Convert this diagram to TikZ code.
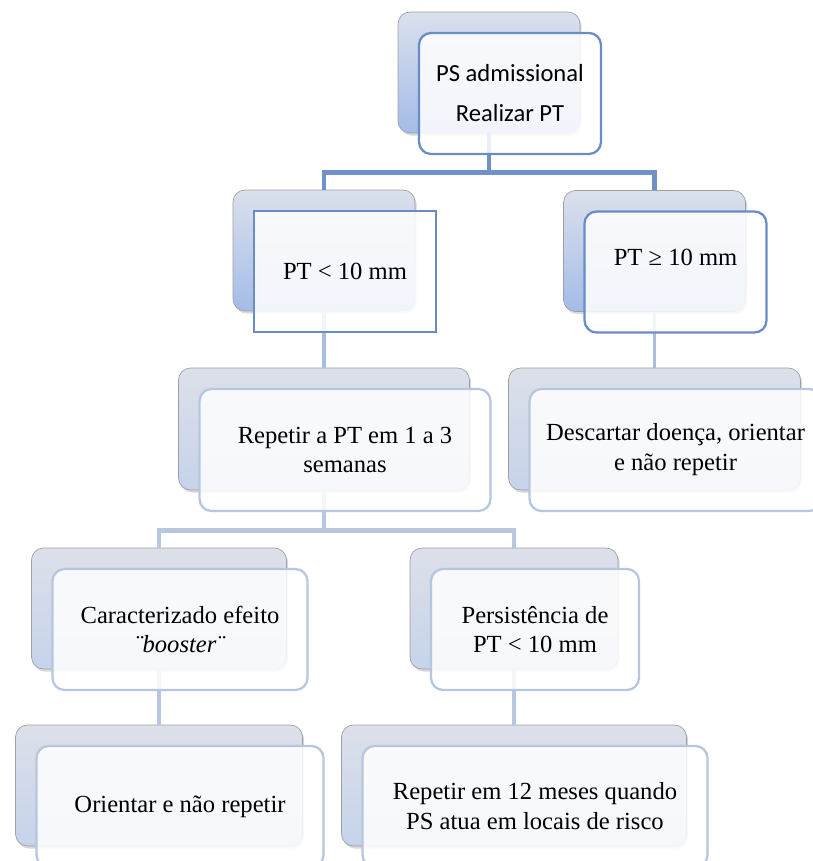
\documentclass[tikz,border=0pt]{standalone}
\usepackage{fontspec}
\setmainfont{Liberation Serif}
\newfontfamily\calibri{Carlito}
\usetikzlibrary{shadows}
\definecolor{fundoAt}{HTML}{DAE0EC}
\definecolor{fundoAb}{HTML}{A4BCE8}
\definecolor{fundoBt}{HTML}{DCE0E9}
\definecolor{fundoBb}{HTML}{C6D3EB}
\definecolor{bordaA}{HTML}{6A8CC6}
\definecolor{bordaB}{HTML}{B6C6DF}
\definecolor{linhaA}{HTML}{6F91C7}
\definecolor{linhaB}{HTML}{A9BDDC}
\definecolor{linhaC}{HTML}{B8C7E0}

\begin{document}
\begin{tikzpicture}[x = 0.02cm, y = -0.02cm,
	fundo/.style 2 args = {draw = gray!75, line width = 0.4pt, rounded corners = 0.24cm, top color = #1, bottom color = #2, drop shadow = {shadow xshift = 1pt, shadow yshift = -1.5pt, opacity = 0.3}},
	frente/.style = {draw = #1, line width = 1.3pt, rounded corners = 0.24cm, fill = white, fill opacity = 0.85, text opacity = 1, xshift = 0.42cm, yshift = -0.42cm, align = center, font = \fontsize{14}{17}\selectfont},
	tam/.style 2 args = {minimum width = #1, minimum height = #2},
	liga/.style = {draw = #1, line width = 2.5pt}]%fluxograma PT
	\useasboundingbox (0,0) rectangle (813,861);
	\clip (0,0) rectangle (813,861);
	% caixas de fundo
	\node[fundo = {fundoAt}{fundoAb}, tam = {3.64cm}{2.42cm}] (PSf) at (489,72.5) {};
	\node[fundo = {fundoAt}{fundoAb}, tam = {3.64cm}{2.42cm}] (PTmf) at (324,250.5) {};
	\node[fundo = {fundoAt}{fundoAb}, tam = {3.64cm}{2.42cm}] (PTMf) at (654.5,251) {};
	\node[fundo = {fundoBt}{fundoBb}, tam = {5.82cm}{2.44cm}] (Repf) at (324,429) {};
	\node[fundo = {fundoBt}{fundoBb}, tam = {5.84cm}{2.44cm}] (Descf) at (654.5,429) {};
	\node[fundo = {fundoBt}{fundoBb}, tam = {5.10cm}{2.42cm}] (Boof) at (159,608.5) {};
	\node[fundo = {fundoBt}{fundoBb}, tam = {4.16cm}{2.42cm}] (Persf) at (514,608.5) {};
	\node[fundo = {fundoBt}{fundoBb}, tam = {5.74cm}{2.42cm}] (Orif) at (159,785.5) {};
	\node[fundo = {fundoBt}{fundoBb}, tam = {6.90cm}{2.42cm}] (Mesf) at (514,785.5) {};
	% ligacoes
	\draw[liga = linhaA, line width = 2.8pt] (PSf.south) -- ++(0,39) -| (PTmf.north);
	\draw[liga = linhaA, line width = 2.8pt] (PSf.south) -- ++(0,39) -| (PTMf.north);
	\draw[liga = linhaB, line width = 2.2pt] (PTmf.south) -- (Repf.north);
	\draw[liga = linhaB, line width = 2.2pt] (PTMf.south) -- (Descf.north);
	\draw[liga = linhaC] (Repf.south) -- ++(0,40) -| (Boof.north);
	\draw[liga = linhaC] (Repf.south) -- ++(0,40) -| (Persf.north);
	\draw[liga = linhaC, line width = 2pt] (Boof.south) -- (Orif.north);
	\draw[liga = linhaC, line width = 2pt] (Persf.south) -- (Mesf.north);
	% caixas da frente
	\node[frente = bordaA, tam = {3.64cm}{2.42cm}, font = \calibri\fontsize{14}{22.8}\selectfont] (PS) at (PSf) {PS admissional\\Realizar PT};
	\node[frente = bordaA, tam = {3.64cm}{2.42cm}, sharp corners] (PTm) at (PTmf) {PT < 10 mm};
	\node[frente = bordaA, tam = {3.64cm}{2.42cm}] (PTM) at (PTMf) {PT ≥ 10 mm\\ \mbox{}};
	\node[frente = bordaB, tam = {5.82cm}{2.44cm}] (Rep) at (Repf) {Repetir a PT em 1 a 3\\semanas};
	\node[frente = bordaB, tam = {5.84cm}{2.44cm}] (Desc) at (Descf) {Descartar doença, orientar\\e não repetir};
	\node[frente = bordaB, tam = {5.10cm}{2.42cm}] (Boo) at (Boof) {Caracterizado efeito\\\textit{¨booster¨}};
	\node[frente = bordaB, tam = {4.16cm}{2.42cm}] (Pers) at (Persf) {Persistência de\\PT < 10 mm};
	\node[frente = bordaB, tam = {5.74cm}{2.42cm}] (Ori) at (Orif) {Orientar e não repetir};
	\node[frente = bordaB, tam = {6.90cm}{2.42cm}] (Mes) at (Mesf) {Repetir em 12 meses quando\\PS atua em locais de risco};
\end{tikzpicture}
\end{document}
